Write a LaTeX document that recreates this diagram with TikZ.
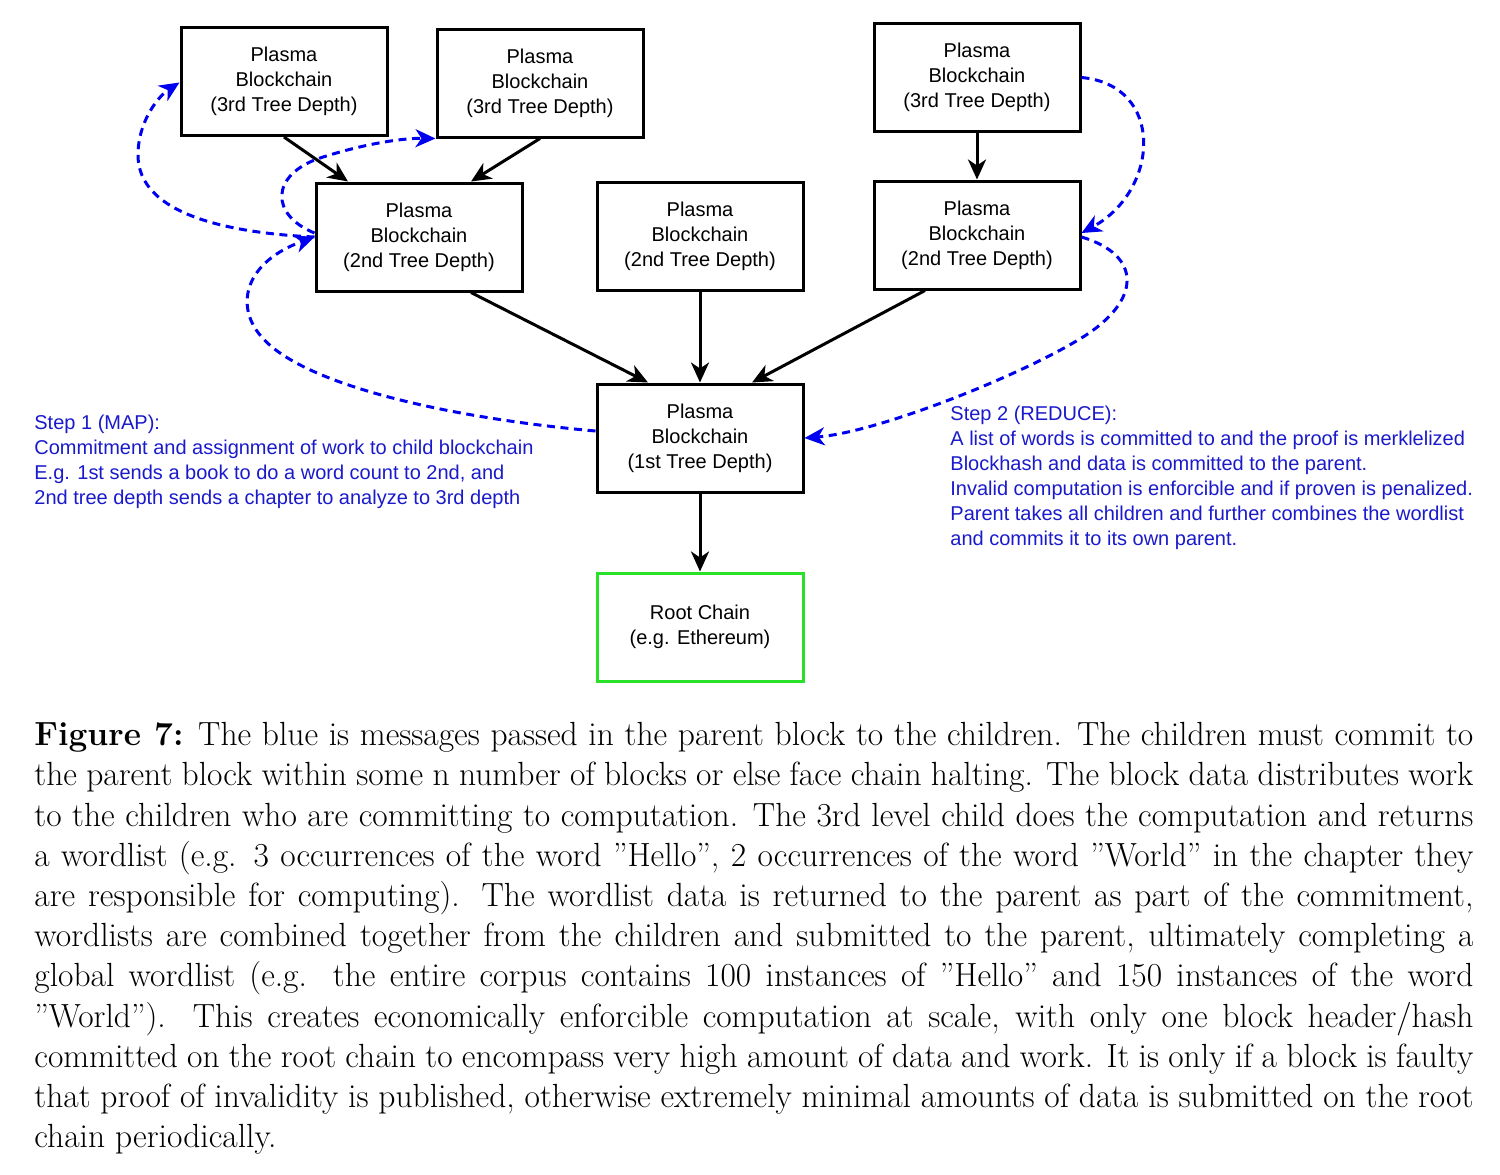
\documentclass[tikz,border=0pt]{standalone}
\usepackage{fontspec}
\newfontfamily\diagfont{Liberation Sans}
\usetikzlibrary{arrows.meta}
\definecolor{msgblue}{RGB}{0,0,240}
\definecolor{notetext}{RGB}{26,26,204}
\definecolor{rootgreen}{RGB}{40,225,40}
\newcommand{\boxfont}{\diagfont\fontsize{10}{12.5}\selectfont}
\begin{document}
\begin{tikzpicture}[x=0.5pt,y=-0.5pt,
  box/.style={draw=black, line width=1.5pt, fill=white, minimum width=103pt, minimum height=54pt, align=center, font=\boxfont, inner sep=0pt},
  flow/.style={draw=black, line width=1.5pt, -{Stealth[length=10pt,width=9pt,inset=3pt]}},
  msg/.style={draw=msgblue, line width=1.5pt, dash pattern=on 4pt off 2.8pt, -{Stealth[length=10pt,width=9pt,inset=3pt]}},
  note/.style={text=notetext, font=\boxfont, align=left, inner sep=0pt},
  captiontext/.style={text width=719.5pt, align=justify, inner sep=0pt, font=\fontsize{16.75}{20.1}\selectfont}]
\useasboundingbox[fill=white] (0,0) rectangle (1500,1174);

\node[box] (a3l) at (284,81.5) {Plasma\\Blockchain\\(3rd Tree Depth)};
\node[box] (a3m) at (540,83) {Plasma\\Blockchain\\(3rd Tree Depth)};
\node[box] (a3r) at (977,77.5) {Plasma\\Blockchain\\(3rd Tree Depth)};
\node[box] (b2l) at (419,237) {Plasma\\Blockchain\\(2nd Tree Depth)};
\node[box] (b2m) at (700,236) {Plasma\\Blockchain\\(2nd Tree Depth)};
\node[box] (b2r) at (977,235) {Plasma\\Blockchain\\(2nd Tree Depth)};
\node[box] (c1) at (700,438) {Plasma\\Blockchain\\(1st Tree Depth)};
\node[box, draw=rootgreen] (root) at (700,627) {Root Chain\\(e.g. Ethereum)};

\draw[flow] (a3l.south) -- ([xshift=-35.5pt]b2l.north);
\draw[flow] (a3m.south) -- ([xshift=26pt]b2l.north);
\draw[flow] (a3r) -- (b2r);
\draw[flow] ([xshift=26pt]b2l.south) -- ([xshift=-26pt]c1.north);
\draw[flow] (b2m) -- (c1);
\draw[flow] ([xshift=-26pt]b2r.south) -- ([xshift=26pt]c1.north);
\draw[flow] (c1) -- (root);

\draw[msg] ([yshift=3.5pt]c1.west) .. controls (450,418) and (300,385) .. (260,335)
  .. controls (235,305) and (245,262) .. (b2l.west);
\draw[msg] (b2l.west) .. controls (230,233) and (138,215) .. (138,155)
  .. controls (138,120) and (160,95) .. ([yshift=-0.5pt]a3l.west);
\draw[msg] ([yshift=2pt]b2l.west) .. controls (270,215) and (270,175) .. (320,158)
  .. controls (360,145) and (400,138) .. (a3m.south west);
\draw[msg] (a3r.east) .. controls (1165,85) and (1160,190) .. ([yshift=1pt]b2r.east);
\draw[msg] ([yshift=-1pt]b2r.east) .. controls (1142,255) and (1142,300) .. (1083,337)
  .. controls (1024,374) and (880,432) .. (c1.east);

\node[note, anchor=west] (step1) at (34,462) {Step 1 (MAP):\\Commitment and assignment of work to child blockchain\\E.g. 1st sends a book to do a word count to 2nd, and\\2nd tree depth sends a chapter to analyze to 3rd depth};
\node[note, anchor=west] (step2) at (950,478) {Step 2 (REDUCE):\\A list of words is committed to and the proof is merklelized\\Blockhash and data is committed to the parent.\\Invalid computation is enforcible and if proven is penalized.\\Parent takes all children and further combines the wordlist\\and commits it to its own parent.};

\node[captiontext, anchor=north west] (caption) at (34,722) {\textbf{Figure 7:} The blue is messages passed in the parent block to the children. The children must commit to\linebreak
the parent block within some n number of blocks or else face chain halting. The block data distributes work\linebreak
to the children who are committing to computation. The 3rd level child does the computation and returns\linebreak
a wordlist (e.g. 3 occurrences of the word ”Hello”, 2 occurrences of the word ”World” in the chapter they\linebreak
are responsible for computing). The wordlist data is returned to the parent as part of the commitment,\linebreak
wordlists are combined together from the children and submitted to the parent, ultimately completing a\linebreak
global wordlist (e.g. the entire corpus contains 100 instances of ”Hello” and 150 instances of the word\linebreak
”World”). This creates economically enforcible computation at scale, with only one block header/hash\linebreak
committed on the root chain to encompass very high amount of data and work. It is only if a block is faulty\linebreak
that proof of invalidity is published, otherwise extremely minimal amounts of data is submitted on the root\linebreak
chain periodically.};
\end{tikzpicture}
\end{document}
